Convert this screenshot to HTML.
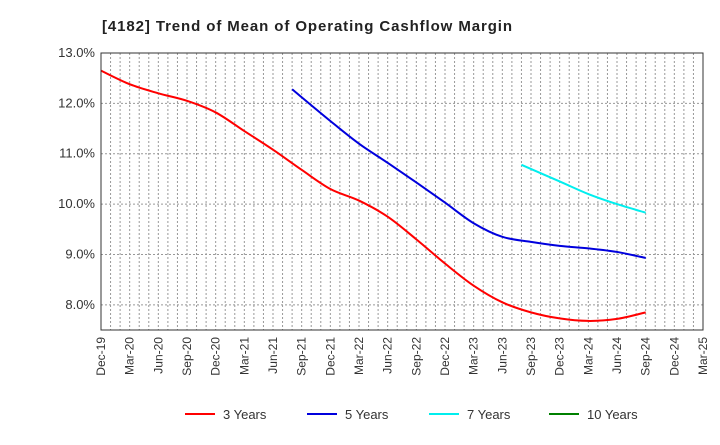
<!DOCTYPE html>
<html><head><meta charset="utf-8"><style>
body{margin:0;background:#fff;font-family:"Liberation Sans",sans-serif}
</style></head><body>
<svg id="c" width="720" height="440" xmlns="http://www.w3.org/2000/svg">
<text x="102" y="31" font-size="15" font-weight="bold" fill="#222" textLength="410" lengthAdjust="spacing">[4182]  Trend of Mean of Operating Cashflow Margin</text>
<g id="grid"></g><g id="series"></g><g id="axes"></g><g id="legend"></g>
</svg>
<script>
const xLabels=["Dec-19","Mar-20","Jun-20","Sep-20","Dec-20","Mar-21","Jun-21","Sep-21","Dec-21","Mar-22","Jun-22","Sep-22","Dec-22","Mar-23","Jun-23","Sep-23","Dec-23","Mar-24","Jun-24","Sep-24","Dec-24","Mar-25"];
const yTicks=[8,9,10,11,12,13];
const seriesNames=["3 Years","5 Years","7 Years","10 Years"];
const seriesColors=["#ff0000","#0000dd","#00eeee","#008000"];
const red3Months=[0,3,6,9,12,15,18,21,24,27,30,33,36,39,42,45,48,51,54,57];
const red3Values=[12.65,12.38,12.2,12.05,11.82,11.45,11.08,10.68,10.3,10.07,9.75,9.3,8.82,8.38,8.05,7.85,7.73,7.68,7.72,7.85];
const blue5Months=[20,24,27,30,33,36,39,42,45,48,51,54,57];
const blue5Values=[12.28,11.65,11.2,10.82,10.43,10.03,9.62,9.35,9.25,9.17,9.12,9.05,8.93];
const cyan7Months=[44,48,51,54,57];
const cyan7Values=[10.78,10.45,10.2,10.0,9.83];
const L=101,R=703,T=53,B=330,yMin=7.5,yMax=13.0,nMonths=63;
const X=m=>L+m*(R-L)/nMonths;
const Y=v=>B-(v-yMin)*(B-T)/(yMax-yMin);
const NS="http://www.w3.org/2000/svg";
function mk(tag,attrs,parent){const e=document.createElementNS(NS,tag);for(const k in attrs)e.setAttribute(k,attrs[k]);parent.appendChild(e);return e;}
const grid=document.getElementById('grid'),axes=document.getElementById('axes'),ser=document.getElementById('series'),leg=document.getElementById('legend');
for(let m=1;m<nMonths;m++){const gl=mk('line',{x1:X(m),x2:X(m),y1:T,y2:B,stroke:'#999','stroke-width':1,'stroke-dasharray':'2,2'},grid);

}
yTicks.forEach(v=>{const gl=mk('line',{x1:L,x2:R,y1:Y(v),y2:Y(v),stroke:'#999','stroke-width':1,'stroke-dasharray':'2,2'},grid);


const t=mk('text',{x:L-6,y:Y(v)+4,'text-anchor':'end','font-size':13,fill:'#333'},axes);t.textContent=v.toFixed(1)+'%';

});
const fr=mk('rect',{x:L,y:T,width:R-L,height:B-T,fill:'none',stroke:'#333','stroke-width':1},axes);


xLabels.forEach((s,i)=>{const x=X(i*3);const t=mk('text',{x:x+4,y:B+7,'text-anchor':'end','font-size':12,fill:'#333',transform:`rotate(-90 ${x+4} ${B+7})`},axes);t.textContent=s;

});
function path(ms,vs){const p=ms.map((m,i)=>[X(m),Y(vs[i])]);let d=`M${p[0][0]},${p[0][1]}`;
for(let i=0;i<p.length-1;i++){const p0=p[i-1]||p[i],p1=p[i],p2=p[i+1],p3=p[i+2]||p2;
d+=` C${p1[0]+(p2[0]-p0[0])/6},${p1[1]+(p2[1]-p0[1])/6} ${p2[0]-(p3[0]-p1[0])/6},${p2[1]-(p3[1]-p1[1])/6} ${p2[0]},${p2[1]}`;}return d;}
[[red3Months,red3Values,0,'series-3-years'],[blue5Months,blue5Values,1,'series-5-years'],[cyan7Months,cyan7Values,2,'series-7-years']].forEach(([m,v,c,n])=>{
const pe=mk('path',{d:path(m,v),fill:'none',stroke:seriesColors[c],'stroke-width':2},ser);

});
const lx=[185,307,429,549];
seriesNames.forEach((s,i)=>{const ln=mk('line',{x1:lx[i],x2:lx[i]+30,y1:414,y2:414,stroke:seriesColors[i],'stroke-width':2},leg);


const t=mk('text',{x:lx[i]+38,y:419,'font-size':13,fill:'#333'},leg);t.textContent=s;

});
</script>
</body></html>
